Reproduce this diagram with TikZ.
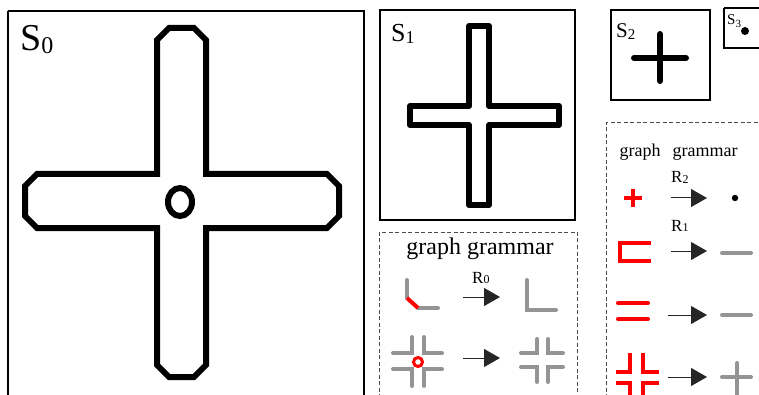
\documentclass[tikz,border=0pt]{standalone}
\usepackage{fontspec}
\setmainfont{Liberation Serif}
\usetikzlibrary{arrows.meta}
\newcommand{\fsz}[1]{\fontsize{#1}{#1}\selectfont}
\tikzset{
  frame/.style={draw=black, line width=1.1pt},
  dframe/.style={draw=black!70, line width=1pt, dash pattern=on 4pt off 2.5pt},
  thick shape/.style={draw=black, line width=6pt},
  gline/.style={draw=black!42, line width=4pt, line cap=round},
  rline/.style={draw=red, line width=4pt},
  rule arrow/.style={draw=black!85, line width=1pt, -{Triangle[length=16pt,width=18pt]}},
  lbl/.style={inner sep=0pt, anchor=base west},
}
\begin{document}
\begin{tikzpicture}[x=1pt, y=-1pt]
\useasboundingbox (0,0) rectangle (759,395);
\fill[white] (0,0) rectangle (759,395);

% ---------- S0 ----------
\draw[frame] (8,11) -- (8,398) (8,11) -- (364,11) -- (364,398);
\node[lbl] (s0) at (20,51) {\fsz{38}S\raisebox{-3pt}{\fsz{24}0}};
\draw[thick shape, line join=miter]
  (157,174) -- (157,40) -- (169,28) -- (194,28) -- (206,40) -- (206,174)
  -- (327,174) -- (339,186) -- (339,216) -- (327,228) -- (206,228)
  -- (206,365) -- (194,377) -- (169,377) -- (157,365) -- (157,228)
  -- (37,228) -- (25,216) -- (25,186) -- (37,174) -- cycle;
\draw[thick shape] (180,202) ellipse [x radius=12, y radius=14];

% ---------- S1 ----------
\draw[frame] (380,10) rectangle (575,220);
\node[lbl] (s1) at (391,42) {\fsz{26}S\raisebox{-2pt}{\fsz{18}1}};
\draw[thick shape, line join=round]
  (469,106) -- (469,26) -- (489,26) -- (489,106) -- (559,106) -- (559,125)
  -- (489,125) -- (489,205) -- (469,205) -- (469,125) -- (410,125)
  -- (410,106) -- cycle;

% ---------- S2 ----------
\draw[frame] (611,10) rectangle (710,100);
\node[lbl] (s2) at (616,38) {\fsz{21}S\raisebox{-1.5pt}{\fsz{15}2}};
\draw[thick shape, line cap=round] (660,34) -- (660,81) (634,58) -- (686,58);

% ---------- S3 ----------
\draw[frame] (724,8) -- (724,48) -- (760,48) (724,8) -- (760,8);
\node[lbl] (s3) at (727,25) {\fsz{15}S\raisebox{-2.5pt}{\fsz{11}3}};
\fill (745,31) circle (4);

% ---------- graph grammar box (middle) ----------
\draw[dframe] (379,398) -- (379,232) -- (577,232) -- (577,398);
\node[inner sep=0pt, anchor=base] (gg) at (480,254) {\fsz{24}graph grammar};

% row R0
\draw[gline] (407,280) -- (407,298);
\draw[gline] (418,308) -- (438,308);
\draw[draw=red, line width=4pt] (407,298) -- (418,308);
\coordinate (a0s) at (463,297);
\coordinate (a0e) at (500,297);
\draw[rule arrow] (a0s) -- (a0e);
\node[lbl] (r0) at (472,283) {\fsz{17}R\raisebox{-0.5pt}{\fsz{12}0}};
\draw[gline] (527,280) -- (527,310) -- (556,310);

% row 2
\draw[gline] (393,353) -- (412,353) -- (412,337);
\draw[gline] (442,353) -- (424,353) -- (424,337);
\draw[gline] (393,369) -- (412,369) -- (412,386);
\draw[gline] (442,369) -- (424,369) -- (424,386);
\draw[draw=red, line width=3pt] (418,362) circle (4.5);
\coordinate (a1s) at (463,358);
\coordinate (a1e) at (500,358);
\draw[rule arrow] (a1s) -- (a1e);
\draw[gline] (521,353) -- (537,353) -- (537,339);
\draw[gline] (563,353) -- (548,353) -- (548,339);
\draw[gline] (521,367) -- (537,367) -- (537,382);
\draw[gline] (563,367) -- (548,367) -- (548,382);

% ---------- grammar box (right) ----------
\draw[dframe] (606,398) -- (606,123) -- (760,123);
\node[inner sep=0pt, anchor=base] (gph) at (640,157) {\fsz{18}graph};
\node[inner sep=0pt, anchor=base] (gmr) at (705,157) {\fsz{18}grammar};

% R2
\node[lbl] (r2) at (671,183) {\fsz{17}R\raisebox{-0.5pt}{\fsz{12}2}};
\draw[draw=red, line width=4pt] (624,198) -- (642,198) (633,189) -- (633,207);
\coordinate (b0s) at (671,198);
\coordinate (b0e) at (707,198);
\draw[rule arrow] (b0s) -- (b0e);
\fill (735,198) circle (3.2);

% R1
\node[lbl] (r1) at (671,231) {\fsz{17}R\raisebox{-0.5pt}{\fsz{12}1}};
\draw[rline, line join=miter] (651,243) -- (620,243) -- (620,261) -- (651,261);
\coordinate (b1s) at (671,251);
\coordinate (b1e) at (707,251);
\draw[rule arrow] (b1s) -- (b1e);
\draw[gline] (722,253) -- (751,253);

% row =
\draw[rline, line cap=round] (618,303) -- (648,303) (618,319) -- (648,319);
\coordinate (b2s) at (668,315);
\coordinate (b2e) at (707,315);
\draw[rule arrow] (b2s) -- (b2e);
\draw[gline] (722,315) -- (751,315);

% row corners
\draw[rline] (616,372) -- (630,372) -- (630,353);
\draw[rline] (659,372) -- (643,372) -- (643,353);
\draw[rline] (616,383) -- (630,383) -- (630,398);
\draw[rline] (659,383) -- (643,383) -- (643,398);
\coordinate (b3s) at (668,377);
\coordinate (b3e) at (707,377);
\draw[rule arrow] (b3s) -- (b3e);
\draw[gline] (722,377) -- (751,377) (737,363) -- (737,398);
\end{tikzpicture}
\end{document}
